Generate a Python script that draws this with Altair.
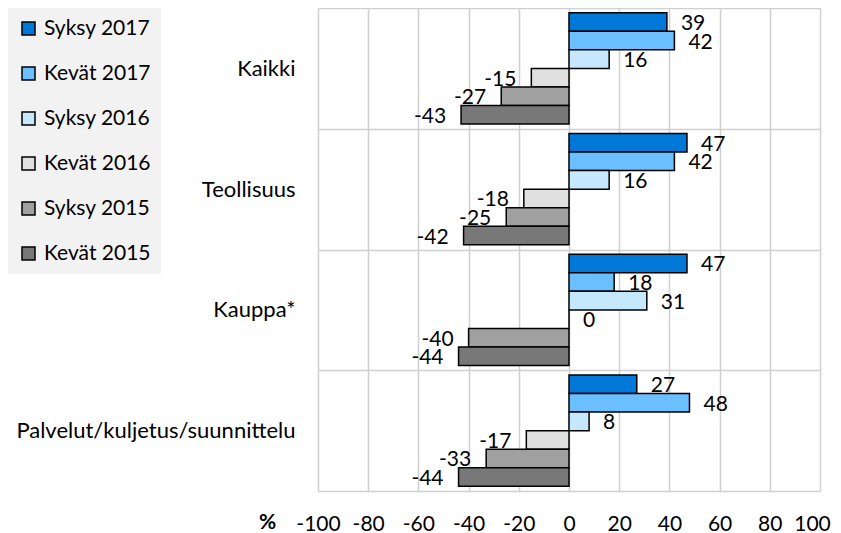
import altair as alt
import pandas as pd

categories = ["Kaikki", "Teollisuus", "Kauppa*", "Palvelut/kuljetus/suunnittelu"]
series = ["Syksy 2017", "Kevät 2017", "Syksy 2016", "Kevät 2016", "Syksy 2015", "Kevät 2015"]
colors = ["#0078D7", "#6BBFFF", "#C5E8FF", "#E0E0E0", "#A0A0A0", "#787878"]
values = {
    "Kaikki": [39, 42, 16, -15, -27, -43],
    "Teollisuus": [47, 42, 16, -18, -25, -42],
    "Kauppa*": [47, 18, 31, 0, -40, -44],
    "Palvelut/kuljetus/suunnittelu": [27, 48, 8, -17, -33, -44],
}
x_ticks = list(range(-100, 101, 20))

rows = []
for c in categories:
    for s, v in zip(series, values[c]):
        rows.append({"category": c, "series": s, "value": v})
df = pd.DataFrame(rows)

FONT = "Lato"
FS = 21

y_enc = alt.Y("category:N", sort=categories, title=None,
              scale=alt.Scale(paddingInner=0, paddingOuter=0),
              axis=alt.Axis(labelPadding=23, labelFontSize=22, ticks=False, domain=False,
                            grid=True, tickBand="extent", gridColor="#D0D0D0", labelLimit=400,
                            gridWidth=1.5, labelColor="#000000", labelFont=FONT))
yoff_enc = alt.YOffset("series:N", sort=series,
                       scale=alt.Scale(paddingInner=0, paddingOuter=0.25))
x_enc = alt.X("value:Q", title="%",
              scale=alt.Scale(domain=[-100, 100], nice=False),
              axis=alt.Axis(values=x_ticks, ticks=False, domain=False, grid=True,
                            labelExpr="'' + datum.value", labelOverlap=False, labelFlush=False,
                            labelOffset={"condition": {"test": "datum.value == 100", "value": -8}, "value": 0},
                            gridColor="#D0D0D0", gridWidth=1.5, labelFontSize=FS,
                            labelPadding=22, labelColor="#000000", labelFont=FONT,
                            titleFontSize=FS, titleFontWeight="bold", titleFont=FONT,
                            titleX=-51, titleY=31, titleBaseline="middle",
                            titleAlign="center", titleAngle=0))

base = alt.Chart(df).transform_calculate(label="'' + datum.value")

bars = base.mark_bar(stroke="black", strokeWidth=1.5).encode(
    x=x_enc,
    y=y_enc,
    yOffset=yoff_enc,
    color=alt.Color("series:N", sort=series, title=None,
                    scale=alt.Scale(domain=series, range=colors),
                    legend=alt.Legend(orient="none", legendX=-310, legendY=0,
                                      fillColor="#F2F2F2", padding=10, rowPadding=23,
                                      labelFontSize=FS, labelFont=FONT, labelColor="#000000",
                                      symbolType="square", symbolSize=169,
                                      symbolStrokeColor="black", symbolStrokeWidth=1.5,
                                      labelOffset=5)),
)

pos_text = base.transform_filter(alt.datum.value >= 0).mark_text(
    align="left", baseline="middle", dx=14, dy=2, fontSize=FS, font=FONT, color="#000000"
).encode(x="value:Q", y=alt.Y("category:N", sort=categories), yOffset=alt.YOffset("series:N", sort=series),
         text="label:N")

neg_text = base.transform_filter(alt.datum.value < 0).mark_text(
    align="right", baseline="middle", dx=-15, dy=2, fontSize=FS, font=FONT, color="#000000"
).encode(x="value:Q", y=alt.Y("category:N", sort=categories), yOffset=alt.YOffset("series:N", sort=series),
         text="label:N")

chart = alt.layer(bars, pos_text, neg_text).properties(
    width=502, height=483,
    autosize=alt.AutoSizeParams(type="none"),
    padding={"left": 310, "top": 0, "right": 13, "bottom": 44},
).configure_view(stroke="transparent").configure(font=FONT)

chart.save("out.html", embed_options={"renderer": "svg", "actions": False})
